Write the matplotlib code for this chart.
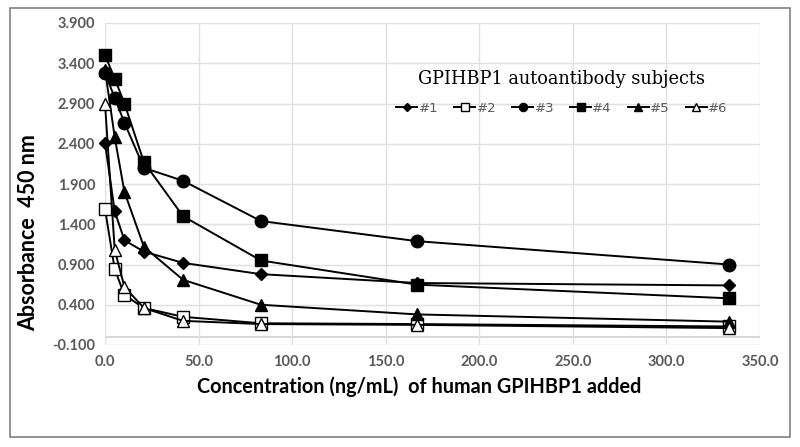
import matplotlib
matplotlib.use("Agg")
import matplotlib.pyplot as plt
from matplotlib.patches import Rectangle

conc = [0.0, 5.2, 10.4, 20.8, 41.7, 83.3, 166.7, 333.3]
s1 = [2.41, 1.56, 1.20, 1.06, 0.92, 0.78, 0.67, 0.64]
s2 = [1.59, 0.84, 0.52, 0.36, 0.25, 0.17, 0.16, 0.13]
s3 = [3.28, 2.97, 2.66, 2.10, 1.94, 1.44, 1.19, 0.90]
s4 = [3.50, 3.21, 2.90, 2.17, 1.50, 0.95, 0.65, 0.48]
s5 = [3.32, 2.48, 1.80, 1.12, 0.71, 0.40, 0.28, 0.19]
s6 = [2.90, 1.08, 0.62, 0.36, 0.20, 0.16, 0.15, 0.11]
labels = ["#1", "#2", "#3", "#4", "#5", "#6"]
xticks = [0, 50, 100, 150, 200, 250, 300, 350]
yticks = [-0.1, 0.4, 0.9, 1.4, 1.9, 2.4, 2.9, 3.4, 3.9]

series = [s1, s2, s3, s4, s5, s6]
styles = [("D", "black", 6.5), ("s", "white", 9), ("o", "black", 9),
          ("s", "black", 9), ("^", "black", 9), ("^", "white", 9)]

fig = plt.figure(figsize=(8, 4.47), dpi=100)
ax = fig.add_axes([105/800, 1-345/447, (760-105)/800, (345-23)/447])

for ys, lab, (m, fc, ms) in zip(series, labels, styles):
    ax.plot(conc, ys, color="black", lw=1.4, marker=m, markersize=ms,
            markerfacecolor=fc, markeredgecolor="black", markeredgewidth=1.0,
            label=lab, zorder=3, clip_on=False)

ax.set_xlim(0, 350)
ax.set_ylim(-0.1, 3.9)
ax.set_xticks(xticks)
ax.set_yticks(yticks)
ax.set_xticklabels([f"{v:.1f}" for v in xticks])
ax.set_yticklabels([f"{v:.3f}" for v in yticks])
ax.grid(True, color="#e0e0e0", lw=1.0, zorder=0)
ax.axhline(0, color="#d0d0d0", lw=1.2, zorder=1)
for sp in ax.spines.values():
    sp.set_visible(False)
ax.tick_params(length=0, pad=7, colors="#595959")
for t in ax.get_xticklabels() + ax.get_yticklabels():
    t.set_fontweight("bold")
    t.set_fontsize(10.5)
    t.set_family("Lato")

ax.set_xlabel("Concentration (ng/mL)  of human GPIHBP1 added", fontsize=14.3,
              fontweight="bold", family="Lato")
ax.xaxis.set_label_coords((419-105)/655, -(387-345)/322, transform=ax.transAxes)
ax.xaxis.label.set_va("center")
ax.set_ylabel("Absorbance  450 nm", fontsize=15.5, fontweight="bold",
              family="Lato")
ax.yaxis.set_label_coords(-(105-29)/655, (345-233)/322, transform=ax.transAxes)
ax.yaxis.label.set_va("center")

fig.text(562/800, 1-79/447, "GPIHBP1 autoantibody subjects", ha="center",
         va="center", fontsize=12.8, family="DejaVu Serif")
leg = ax.legend(loc="center", bbox_to_anchor=((562-105)/655, (345-108)/322),
                ncol=6, frameon=False, fontsize=9.5, markerscale=0.65,
                handlelength=1.6, handletextpad=0.1, columnspacing=1.2,
                labelcolor="#595959")

fig.patches.append(Rectangle((10/800, 1-437/447), 780/800, 429/447,
                             transform=fig.transFigure, fill=False,
                             edgecolor="#7f7f7f", lw=1.2))

fig.savefig("out.png", dpi=100)
